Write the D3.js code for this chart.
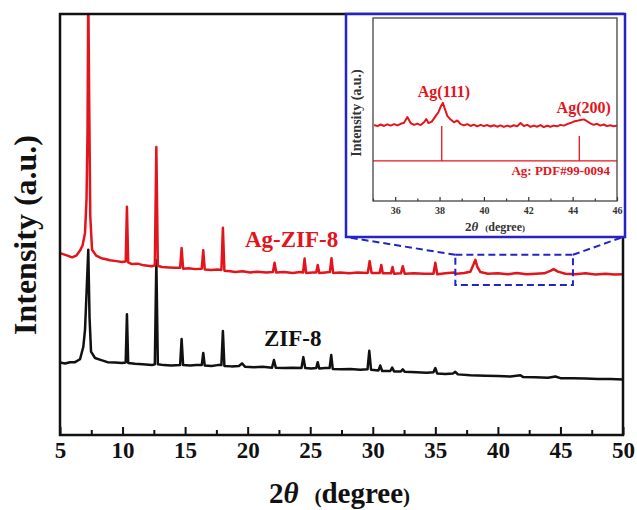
<!DOCTYPE html>
<html>
<head>
<meta charset="utf-8">
<script src="https://cdn.jsdelivr.net/npm/d3@7"></script>
<style>
    body { margin: 0; background: #fff; }
    svg { display: block; }
    text { font-family: "Liberation Serif", "Times New Roman", serif; font-weight: bold; }
</style>
</head>
<body>
<div id="chart-container"></div>
<script>
// XRD patterns, [2theta, intensity (a.u.)]
var zif8 = [
    [5.0,17.2],[5.4,17.0],[5.8,17.3],[6.2,17.3],[6.6,18.0],[6.86,20.9],[7.0,25.0],[7.13,34.4],[7.26,44.0],
    [7.36,28.0],[7.48,19.8],[7.8,18.3],[8.3,17.8],[8.8,17.3],[9.4,17.2],[9.95,17.1],[10.25,17.2],[10.35,28.7],
    [10.45,17.1],[11.0,16.9],[11.6,16.8],[12.35,16.6],[12.58,16.8],[12.7,41.5],[12.82,16.8],[13.3,16.6],
    [13.9,16.5],[14.6,16.6],[14.72,22.8],[14.84,16.6],[15.4,16.5],[15.9,16.6],[16.33,16.6],[16.45,19.5],
    [16.57,16.5],[17.1,16.4],[17.6,16.6],[17.9,16.6],[18.02,24.7],[18.14,16.4],[18.7,16.3],[19.3,16.4],
    [19.55,17.0],[19.8,16.2],[20.5,16.1],[21.2,16.2],[21.95,16.0],[22.1,17.8],[22.25,16.0],[22.9,15.9],
    [23.6,16.0],[24.3,15.9],[24.45,18.5],[24.6,15.9],[25.1,15.8],[25.48,15.9],[25.6,17.3],[25.72,15.8],
    [26.2,15.9],[26.55,15.9],[26.68,19.0],[26.8,15.7],[27.5,15.6],[28.2,15.7],[29.0,15.5],[29.58,15.6],
    [29.72,20.0],[29.86,15.5],[30.45,15.3],[30.6,16.5],[30.75,15.2],[31.4,15.2],[31.55,16.0],[31.7,15.1],
    [32.25,15.1],[32.4,15.6],[32.55,15.0],[33.5,14.9],[34.3,14.8],[34.85,14.9],[35.0,15.9],[35.15,14.6],
    [35.8,14.5],[36.4,14.6],[36.6,15.0],[36.8,14.4],[37.8,14.2],[39.0,14.1],[40.0,14.0],[41.0,13.9],
    [41.8,14.2],[42.0,13.8],[43.0,13.7],[44.0,13.6],[44.6,13.9],[45.0,13.5],[46.0,13.5],[47.0,13.4],
    [48.0,13.3],[49.0,13.3],[50.0,13.2]
];

var agZif8 = [
    [5.0,43.2],[5.3,42.9],[5.6,42.6],[5.96,42.2],[6.3,42.6],[6.6,43.8],[6.8,45.0],[7.0,48.0],[7.12,56.0],
    [7.2,72.0],[7.26,106.0],[7.33,80.0],[7.42,52.0],[7.56,44.0],[7.9,42.6],[8.3,42.0],[8.6,41.8],[9.0,41.5],
    [9.5,41.3],[9.96,41.1],[10.25,41.2],[10.35,54.2],[10.45,41.0],[10.75,40.6],[11.2,40.7],[11.7,40.3],
    [12.35,40.1],[12.58,40.3],[12.7,68.4],[12.82,40.2],[13.15,39.9],[13.7,39.8],[14.2,39.7],[14.6,39.7],
    [14.72,44.4],[14.84,39.5],[15.3,39.6],[15.8,39.4],[16.33,39.5],[16.45,43.9],[16.57,39.3],[17.1,39.2],
    [17.6,39.3],[17.9,39.2],[18.02,49.2],[18.14,39.0],[18.6,38.9],[19.0,38.7],[19.6,38.9],[20.2,38.6],
    [20.8,38.8],[21.5,38.6],[22.02,38.7],[22.15,40.9],[22.28,38.6],[22.9,38.7],[23.6,38.5],[24.2,38.7],
    [24.43,38.6],[24.55,41.9],[24.67,38.5],[25.2,38.6],[25.48,38.6],[25.6,40.4],[25.72,38.5],[26.2,38.6],
    [26.57,38.7],[26.7,42.0],[26.83,38.5],[27.4,38.6],[28.1,38.4],[28.8,38.6],[29.6,38.5],[29.75,41.3],
    [29.9,38.5],[30.55,38.5],[30.68,40.4],[30.8,38.4],[31.45,38.4],[31.58,39.9],[31.7,38.3],[32.25,38.4],
    [32.4,40.1],[32.55,38.3],[33.3,38.4],[34.1,38.3],[34.85,38.3],[35.0,40.9],[35.15,38.2],[35.8,38.4],
    [36.5,38.6],[36.7,38.3],[37.3,38.5],[37.8,38.8],[38.05,40.5],[38.2,41.6],[38.35,40.0],[38.6,38.7],
    [39.2,38.3],[40.0,38.4],[40.8,38.2],[41.5,38.5],[42.3,38.2],[43.0,38.3],[43.7,38.4],[44.2,39.0],
    [44.45,39.4],[44.8,38.8],[45.4,38.3],[46.2,38.2],[47.0,38.4],[47.8,38.1],[48.6,38.3],[49.3,38.1],
    [50.0,38.2]
];

// zoomed Ag-ZIF-8 pattern for the inset (35-46 degree)
var insetTrace = [
    [35.05,41.5],[35.2,40.9],[35.35,41.8],[35.5,41.0],[35.65,41.9],[35.8,41.2],[35.95,42.0],[36.1,41.3],
    [36.25,42.2],[36.4,42.8],[36.55,45.9],[36.7,42.5],[36.85,41.6],[37.0,42.3],[37.15,41.5],[37.3,43.0],
    [37.4,44.8],[37.5,42.6],[37.65,43.4],[37.8,46.0],[37.95,48.5],[38.05,51.5],[38.15,53.6],[38.25,50.0],
    [38.35,46.5],[38.5,44.5],[38.65,43.0],[38.8,44.0],[38.95,42.0],[39.1,41.3],[39.25,42.0],[39.4,41.0],
    [39.55,41.7],[39.7,40.8],[39.85,41.6],[40.0,40.9],[40.15,41.5],[40.3,40.7],[40.45,41.4],[40.6,40.6],
    [40.75,41.3],[40.9,40.5],[41.05,41.2],[41.2,40.6],[41.35,41.4],[41.5,40.8],[41.65,42.6],[41.8,41.0],
    [41.95,41.6],[42.1,40.5],[42.25,41.2],[42.4,40.6],[42.55,41.5],[42.7,40.4],[42.85,41.1],[43.0,40.6],
    [43.15,41.2],[43.3,40.8],[43.45,41.6],[43.6,41.2],[43.75,42.0],[43.9,42.6],[44.05,43.4],[44.2,43.8],
    [44.35,44.3],[44.5,44.6],[44.65,43.6],[44.8,42.4],[44.95,41.6],[45.1,42.2],[45.25,41.2],[45.4,41.8],
    [45.55,40.9],[45.7,41.4],[45.85,40.8],[46.0,41.2]
];

// Ag reference PDF#99-0094 sticks [2theta, top], drawn from the base line
var pdfBase = 21.9;
var pdfSticks = [[38.1, 41.0], [44.3, 35.5]];

var mainTicks = [5, 10, 15, 20, 25, 30, 35, 40, 45, 50];
var mainMinor = [7.5, 12.5, 17.5, 22.5, 27.5, 32.5, 37.5, 42.5, 47.5];
var insetTicks = [36, 38, 40, 42, 44, 46];
var insetMinor = [35, 37, 39, 41, 43, 45];

// window of the main plot shown in the inset: [2theta from, to], [intensity low, high]
var zoomX = [36.6, 46.0];
var zoomY = [35.6, 42.8];

var RED = "#e3141c";
var BLUE = "#2323c8";

function create_chart() {
    // Step 0: svg
    var W = 637, H = 510;
    var svg = d3.select("#chart-container").append("svg")
        .attr("width", W)
        .attr("height", H);

    var margin = { top: 14, right: 14, bottom: 75, left: 60 },
        width = W - margin.left - margin.right,
        height = H - margin.top - margin.bottom;

    // Step 1: scales
    var x = d3.scaleLinear().domain([5, 50]).range([0, width]);
    var y = d3.scaleLinear().domain([0, 100]).range([height, 0]);

    var g = svg.append("g")
        .attr("transform", `translate(${margin.left},${margin.top})`);

    g.append("clipPath").attr("id", "clip-main")
        .append("rect").attr("width", width).attr("height", height);

    var line = d3.line()
        .x(d => x(d[0]))
        .y(d => y(d[1]));

    // Step 2: traces (black first so red sits on top)
    var traces = g.append("g").attr("clip-path", "url(#clip-main)");
    traces.append("path")
        .datum(zif8)
        .attr("d", line)
        .attr("fill", "none")
        .attr("stroke", "#111")
        .attr("stroke-width", 2.5)
        .attr("stroke-linejoin", "round");
    traces.append("path")
        .datum(agZif8)
        .attr("d", line)
        .attr("fill", "none")
        .attr("stroke", RED)
        .attr("stroke-width", 2.5)
        .attr("stroke-linejoin", "round");

    // Step 3: axes, ticks point inwards
    g.append("g")
        .attr("transform", `translate(0,${height})`)
        .call(d3.axisBottom(x).tickValues(mainMinor).tickSizeInner(-5).tickSizeOuter(0).tickFormat(""))
        .call(a => a.select(".domain").remove())
        .call(a => a.selectAll("line").attr("stroke", "#111").attr("stroke-width", 2));

    var xAxis = g.append("g")
        .attr("transform", `translate(0,${height})`)
        .call(d3.axisBottom(x).tickValues(mainTicks).tickSizeInner(-8).tickSizeOuter(0).tickPadding(7));
    xAxis.select(".domain").remove();
    xAxis.selectAll("line").attr("stroke", "#111").attr("stroke-width", 2);
    xAxis.selectAll("text")
        .attr("font-size", 23)
        .attr("font-family", "Liberation Serif, Times New Roman, serif")
        .attr("font-weight", "bold")
        .attr("fill", "#111");

    g.append("rect")
        .attr("width", width)
        .attr("height", height)
        .attr("fill", "none")
        .attr("stroke", "#111")
        .attr("stroke-width", 2.5);

    // Step 4: axis titles
    var xt = svg.append("text")
        .attr("x", margin.left + width / 2 - 2)
        .attr("y", 503)
        .attr("text-anchor", "middle")
        .attr("font-size", 29)
        .attr("fill", "#111");
    xt.append("tspan").text("2");
    xt.append("tspan").attr("font-style", "italic").text("θ");
    xt.append("tspan").attr("dx", 16).attr("font-size", 21).text("(");
    xt.append("tspan").text("degree");
    xt.append("tspan").attr("font-size", 21).text(")");

    svg.append("text")
        .attr("transform", "translate(36,235) rotate(-90)")
        .attr("text-anchor", "middle")
        .attr("font-size", 32)
        .attr("fill", "#111")
        .text("Intensity (a.u.)");

    // Step 5: series labels
    g.append("text")
        .attr("x", 185)
        .attr("y", 233)
        .attr("font-size", 23)
        .attr("fill", RED)
        .text("Ag-ZIF-8");
    g.append("text")
        .attr("x", 204)
        .attr("y", 332)
        .attr("font-size", 23)
        .attr("fill", "#111")
        .text("ZIF-8");

    // Step 6: dashed zoom window and connectors
    var box = { x0: x(zoomX[0]), x1: x(zoomX[1]), y0: y(zoomY[1]), y1: y(zoomY[0]) };
    g.append("rect")
        .attr("x", box.x0)
        .attr("y", box.y0)
        .attr("width", box.x1 - box.x0)
        .attr("height", box.y1 - box.y0)
        .attr("fill", "none")
        .attr("stroke", BLUE)
        .attr("stroke-width", 2)
        .attr("stroke-dasharray", "7,4");

    var inset = { left: 286, top: 0, w: 279, h: 223 };
    g.append("line")
        .attr("x1", box.x0).attr("y1", box.y0)
        .attr("x2", inset.left).attr("y2", inset.top + inset.h)
        .attr("stroke", BLUE).attr("stroke-width", 2).attr("stroke-dasharray", "7,4");
    g.append("line")
        .attr("x1", box.x1).attr("y1", box.y0)
        .attr("x2", inset.left + inset.w - 2).attr("y2", inset.top + inset.h)
        .attr("stroke", BLUE).attr("stroke-width", 2).attr("stroke-dasharray", "7,4");

    g.append("rect")
        .attr("x", inset.left)
        .attr("y", inset.top)
        .attr("width", inset.w)
        .attr("height", inset.h)
        .attr("fill", "#fff")
        .attr("stroke", BLUE)
        .attr("stroke-width", 2.5);

    create_inset(svg);
}

function create_inset(svg) {
    // inner plot area of the inset, page coordinates
    var left = 373, top = 18, width = 244, height = 183;
    var ix = d3.scaleLinear().domain([35, 46]).range([0, width]);
    var iy = d3.scaleLinear().domain([0, 100]).range([height, 0]);

    var g = svg.append("g").attr("transform", `translate(${left},${top})`);

    var line = d3.line().x(d => ix(d[0])).y(d => iy(d[1]));

    g.append("path")
        .datum(insetTrace)
        .attr("d", line)
        .attr("fill", "none")
        .attr("stroke", RED)
        .attr("stroke-width", 2)
        .attr("stroke-linejoin", "round");

    // reference pattern
    g.append("line")
        .attr("x1", 0).attr("x2", width)
        .attr("y1", iy(pdfBase)).attr("y2", iy(pdfBase))
        .attr("stroke", RED).attr("stroke-width", 1.3);
    g.selectAll(".stick")
        .data(pdfSticks)
        .enter()
        .append("line")
        .attr("class", "stick")
        .attr("x1", d => ix(d[0])).attr("x2", d => ix(d[0]))
        .attr("y1", iy(pdfBase)).attr("y2", d => iy(d[1]))
        .attr("stroke", RED).attr("stroke-width", 1.3);

    // ticks
    g.append("g")
        .attr("transform", `translate(0,${height})`)
        .call(d3.axisBottom(ix).tickValues(insetMinor).tickSizeInner(-2.5).tickSizeOuter(0).tickFormat(""))
        .call(a => a.select(".domain").remove())
        .call(a => a.selectAll("line").attr("stroke", "#333").attr("stroke-width", 1.2));
    var ax = g.append("g")
        .attr("transform", `translate(0,${height})`)
        .call(d3.axisBottom(ix).tickValues(insetTicks).tickSizeInner(-4).tickSizeOuter(0).tickPadding(6));
    ax.select(".domain").remove();
    ax.selectAll("line").attr("stroke", "#333").attr("stroke-width", 1.2);
    ax.selectAll("text")
        .attr("font-size", 10)
        .attr("font-family", "Liberation Serif, Times New Roman, serif")
        .attr("font-weight", "bold")
        .attr("fill", "#333");

    g.append("rect")
        .attr("width", width)
        .attr("height", height)
        .attr("fill", "none")
        .attr("stroke", "#444")
        .attr("stroke-width", 1.3);

    // labels
    g.append("text").attr("x", ix(38.2)).attr("y", 79)
        .attr("text-anchor", "middle").attr("font-size", 16).attr("fill", RED)
        .text("Ag(111)");
    g.append("text").attr("x", ix(44.5)).attr("y", 95)
        .attr("text-anchor", "middle").attr("font-size", 16).attr("fill", RED)
        .text("Ag(200)");
    g.append("text").attr("x", width - 7).attr("y", 157)
        .attr("text-anchor", "end").attr("font-size", 13).attr("fill", RED)
        .text("Ag: PDF#99-0094");

    var t = svg.append("text")
        .attr("x", left + width / 2)
        .attr("y", 231)
        .attr("text-anchor", "middle")
        .attr("font-size", 13)
        .attr("fill", "#333");
    t.append("tspan").text("2");
    t.append("tspan").attr("font-style", "italic").text("θ");
    t.append("tspan").attr("dx", 7).attr("font-size", 9).text("(");
    t.append("tspan").attr("font-size", 12).text("degree");
    t.append("tspan").attr("font-size", 9).text(")");

    svg.append("text")
        .attr("transform", `translate(361,${top + 95}) rotate(-90)`)
        .attr("text-anchor", "middle")
        .attr("font-size", 14)
        .attr("fill", "#333")
        .text("Intensity (a.u.)");
}

create_chart();
</script>
</body>
</html>
